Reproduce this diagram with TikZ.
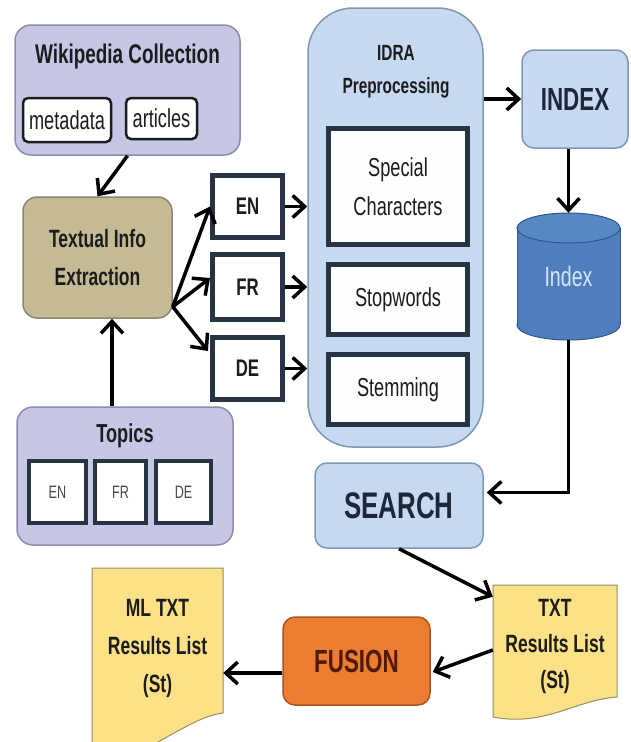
\documentclass[tikz,border=0pt]{standalone}
\usepackage{fontspec}
\setmainfont[FakeStretch=0.7]{Liberation Sans}
\usetikzlibrary{arrows.meta,calc}

\definecolor{lav}{RGB}{198,199,229}
\definecolor{lavline}{RGB}{140,140,172}
\definecolor{tan}{RGB}{196,187,148}
\definecolor{tanline}{RGB}{140,134,112}
\definecolor{pale}{RGB}{198,217,240}
\definecolor{paleline}{RGB}{128,150,180}
\definecolor{frame}{RGB}{38,52,68}
\definecolor{ink}{RGB}{28,28,30}
\definecolor{navy}{RGB}{28,40,58}
\definecolor{cylfill}{RGB}{79,125,190}
\definecolor{cyltop}{RGB}{88,135,198}
\definecolor{cylline}{RGB}{50,85,140}
\definecolor{cyltext}{RGB}{215,230,246}
\definecolor{docfill}{RGB}{252,225,135}
\definecolor{docline}{RGB}{150,140,100}
\definecolor{fus}{RGB}{236,125,48}
\definecolor{fusline}{RGB}{170,85,30}
\definecolor{fustext}{RGB}{80,25,10}

\newcommand{\fsz}[1]{\fontsize{#1}{#1}\selectfont}

\tikzset{
  panel/.style={draw=lavline, fill=lav, line width=1.5pt, rounded corners=16pt, inner sep=0pt},
  chip/.style={draw=ink, fill=white, line width=2.5pt, rounded corners=5pt, inner sep=0pt,
    text=ink, font=\fsz{26}},
  langbox/.style={draw=frame, fill=white, line width=5pt, inner sep=0pt, text=ink,
    font=\fsz{24}\bfseries},
  tinybox/.style={draw=frame, fill=white, line width=4.5pt, inner sep=0pt, text=ink!80,
    font=\fsz{18}},
  stagebox/.style={draw=frame, fill=white!97!pale, line width=5.5pt, inner sep=0pt,
    text=ink, font=\fsz{26}, align=center},
  bluebox/.style={draw=paleline, fill=pale, line width=1.5pt, rounded corners=12pt,
    inner sep=0pt, text=navy, font=\fsz{32}\bfseries},
  title/.style={text=ink, inner sep=0pt, align=center},
  arr/.style={draw=black, line width=3.5pt,
    -{Straight Barb[length=12pt,width=22pt,line width=3.5pt]}},
}

\begin{document}
\begin{tikzpicture}[x=1pt,y=-1pt]
\useasboundingbox (0,0) rectangle (630,742);
\clip (0,0) rectangle (630,742);
\fill[white] (0,0) rectangle (630,742);

% Wikipedia collection
\node[panel, minimum width=225pt, minimum height=130pt] (wiki) at (127.5,90) {};
\node[title, font=\fsz{27}\bfseries] (wikit) at (127.5,57) {Wikipedia Collection};
\node[chip, minimum width=88pt, minimum height=44pt] (meta) at (67,120) {metadata};
\node[chip, minimum width=71pt, minimum height=41pt] (art) at (161.5,118.5) {articles};

% Textual info extraction
\node[draw=tanline, fill=tan, line width=1.5pt, rounded corners=14pt, inner sep=0pt,
      minimum width=149pt, minimum height=121pt, text=ink, align=center,
      font=\fsz{25}\bfseries] (tie) at (97.5,257.5)
      {Textual Info\\[13pt]Extraction};

% Language split
\node[langbox, minimum width=70pt, minimum height=62pt] (en) at (247.5,206.5) {EN};
\node[langbox, minimum width=70pt, minimum height=65pt] (fr) at (247.5,287) {FR};
\node[langbox, minimum width=70pt, minimum height=62pt] (de) at (247.5,368.5) {DE};

% Topics
\node[panel, minimum width=216pt, minimum height=138pt] (topics) at (125,476) {};
\node[title, font=\fsz{26}\bfseries] (topt) at (125,436) {Topics};
\node[tinybox, minimum width=57pt, minimum height=62pt] (ten) at (57.5,492) {EN};
\node[tinybox, minimum width=51pt, minimum height=62pt] (tfr) at (120.5,492) {FR};
\node[tinybox, minimum width=55pt, minimum height=62pt] (tde) at (183.5,492) {DE};

% IDRA preprocessing
\node[draw=paleline, fill=pale, line width=1.5pt, rounded corners=45pt, inner sep=0pt,
      minimum width=175pt, minimum height=439pt] (idra) at (395.5,227.5) {};
\node[title, font=\fsz{22}\bfseries] (idrat) at (396,72) {IDRA\\[11pt]Preprocessing};
\node[stagebox, minimum width=139pt, minimum height=116pt] (spec) at (398,186.5)
      {Special\\[13pt]Characters};
\node[stagebox, minimum width=139pt, minimum height=70pt] (stop) at (398,299.5) {Stopwords};
\node[stagebox, minimum width=139pt, minimum height=70pt] (stem) at (398,389.5) {Stemming};

% Index block and storage
\node[bluebox, minimum width=106pt, minimum height=98pt] (index) at (575,99) {INDEX};
\fill[cylfill, draw=cylline, line width=1pt] (568.5,325) ellipse [x radius=51.5, y radius=15];
\fill[cylfill] (517,228) rectangle (620,325);
\draw[cylline, line width=1pt] (517,228) -- (517,325) (620,228) -- (620,325);
\fill[cyltop, draw=cylline, line width=1pt] (568.5,228) ellipse [x radius=51.5, y radius=15];
\node[inner sep=0pt, minimum width=103pt, minimum height=127pt, text=cyltext,
      font=\fsz{28}] (cyl) at (568.5,276.5) {Index};

% Search
\node[bluebox, minimum width=168pt, minimum height=85pt, font=\fsz{37}\bfseries]
      (search) at (399,505.5) {SEARCH};

% Result documents
\filldraw[fill=docfill, draw=docline, line width=1pt]
  (493,585) -- (617,585) -- (617,697)
  .. controls (575,700) and (545,727) .. (493,717) -- cycle;
\node[inner sep=0pt, minimum width=124pt, minimum height=132pt, text=ink, align=center,
      font=\fsz{25}\bfseries] (txt) at (555,646)
      {TXT\\[11pt]Results List\\[11pt](St)};

\filldraw[fill=docfill, draw=docline, line width=1pt]
  (92,568) -- (223,568) -- (223,713)
  .. controls (195,716) and (160,745) .. (120,760) -- (92,760) -- cycle;
\node[inner sep=0pt, minimum width=131pt, minimum height=160pt, text=ink, align=center,
      font=\fsz{25}\bfseries] (ml) at (157.5,648)
      {ML TXT\\[13pt]Results List\\[13pt](St)};

% Fusion
\node[draw=fusline, fill=fus, line width=1.5pt, rounded corners=12pt, inner sep=0pt,
      minimum width=147pt, minimum height=88pt, text=fustext,
      font=\fsz{32}\bfseries] (fusion) at (356.5,661) {FUSION};

% Connectors
\coordinate (fork) at ($(tie.south east)+(0,-12)$);
\coordinate (toptip) at ($(topics.north)+(-13,0)$);
\coordinate (fm) at ($(fusion.west)+(0,12)$);

\draw[arr] (wiki.south) -- (tie.north);
\draw[arr] (toptip) -- (toptip |- tie.south);
\draw[arr] (fork) -- (en.west);
\draw[arr] (fork) -- ($(fr.west)+(0,-9)$);
\draw[arr] (fork) -- ($(de.north west)+(-2,16)$);
\draw[arr] (en.east) -- (en.east -| idra.west);
\draw[arr] (fr.east) -- (fr.east -| idra.west);
\draw[arr] (de.east) -- (de.east -| idra.west);
\draw[arr] (idra.east |- index.west) -- (index.west);
\draw[arr] (index.south -| cyl.north) -- (cyl.north);
\draw[arr] (cyl.south) |- ($(search.east)+(3,-13)$);
\draw[arr] (search.south) -- ($(txt.north west)+(0,17)$);
\draw[arr] ($(txt.west)+(0,4)$) -- ($(fusion.east)+(2,11)$);
\draw[arr] (fm) -- (fm -| ml.east);
\end{tikzpicture}
\end{document}
